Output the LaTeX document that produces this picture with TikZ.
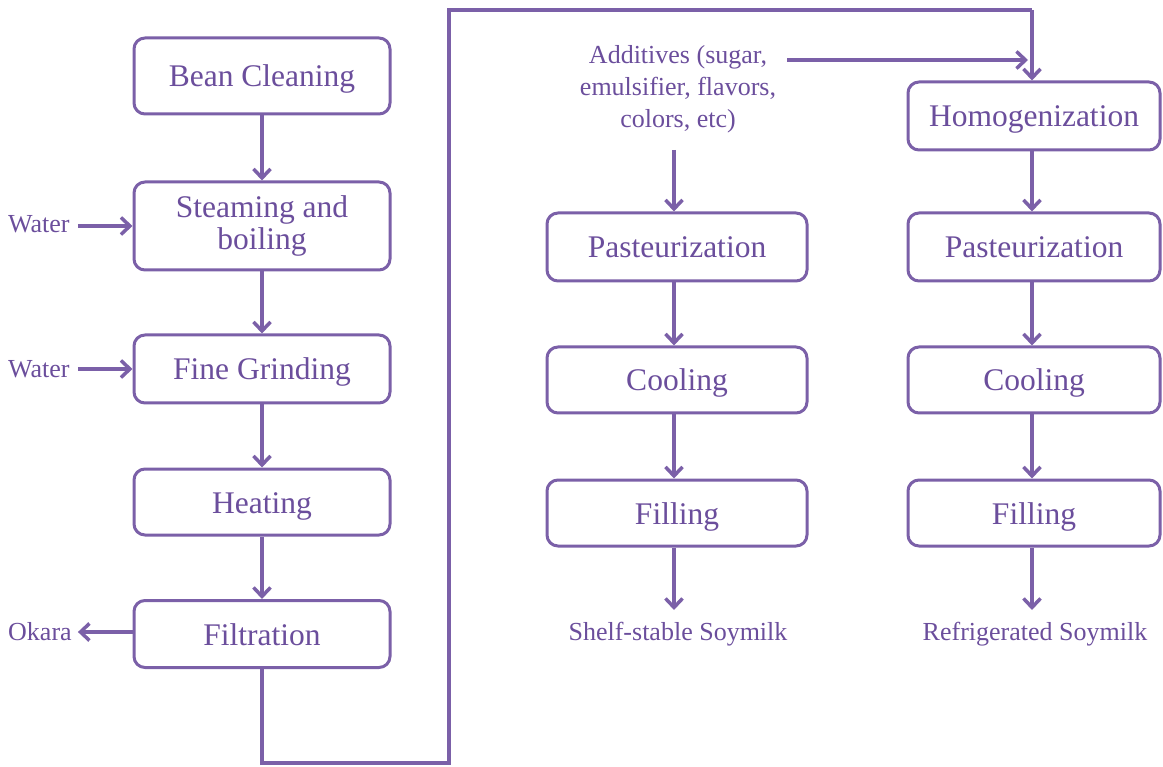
\documentclass[tikz,border=0pt]{standalone}
\usepackage{fontspec}
\setmainfont{Liberation Serif}
\usetikzlibrary{arrows.meta,calc}
\definecolor{pline}{HTML}{7B60A8}
\definecolor{ptext}{HTML}{6B4E9C}
\newcommand{\ctext}[1]{\raisebox{-11pt}[0pt][0pt]{#1}}
\tikzset{
  stepbox/.style={draw=pline, line width=3pt, rounded corners=11pt, fill=white,
    text=ptext, font=\fontsize{31.5}{32}\selectfont, align=center, inner sep=0pt},
  lbl/.style={text=ptext, font=\fontsize{26}{32}\selectfont, align=center, inner sep=0pt},
  flow/.style={draw=pline, line width=3.5pt, -{Straight Barb[length=9pt,width=17pt,line width=3.5pt]}},
  plain/.style={draw=pline, line width=3.5pt}
}
\begin{document}
\begin{tikzpicture}[x=1pt,y=-1pt]
\useasboundingbox (0,0) rectangle (1163,767);
% left column
\node[stepbox, minimum width=256pt, minimum height=76pt] (bean) at (262,76) {\ctext{Bean Cleaning}};
\node[stepbox, minimum width=256pt, minimum height=88pt] (steam) at (262,226) {Steaming and\\boiling};
\node[stepbox, minimum width=256pt, minimum height=68pt] (grind) at (262,369) {\ctext{Fine Grinding}};
\node[stepbox, minimum width=256pt, minimum height=66pt] (heat) at (262,502) {\ctext{Heating}};
\node[stepbox, minimum width=256pt, minimum height=67pt] (filt) at (262,634) {\ctext{Filtration}};
% middle column
\node[stepbox, minimum width=260pt, minimum height=68pt] (past1) at (677,247) {\ctext{Pasteurization}};
\node[stepbox, minimum width=260pt, minimum height=66pt] (cool1) at (677,380) {\ctext{Cooling}};
\node[stepbox, minimum width=260pt, minimum height=66pt] (fill1) at (677,513) {\ctext{Filling}};
% right column
\node[stepbox, minimum width=252pt, minimum height=68pt] (homo) at (1034,116) {\ctext{Homogenization}};
\node[stepbox, minimum width=252pt, minimum height=68pt] (past2) at (1034,247) {\ctext{Pasteurization}};
\node[stepbox, minimum width=252pt, minimum height=66pt] (cool2) at (1034,380) {\ctext{Cooling}};
\node[stepbox, minimum width=252pt, minimum height=66pt] (fill2) at (1034,513) {\ctext{Filling}};
% labels
\node[lbl, anchor=west] (w1) at (8,224) {Water};
\node[lbl, anchor=west] (w2) at (8,369) {Water};
\node[lbl, anchor=west] (ok) at (8,632) {Okara};
\node[lbl] (add) at (678,89) {Additives (sugar,\\emulsifier, flavors,\\colors, etc)};
\node[lbl] (shelf) at (678,634) {Shelf-stable Soymilk};
\node[lbl] (refr) at (1035,634) {Refrigerated Soymilk};
% coordinates
\coordinate (addtop) at (674,150);
\coordinate (addR) at (787,60);
\coordinate (addE) at (1028,60);
\coordinate (c1) at (262,763);
\coordinate (c2) at (449,10);
\coordinate (ob) at (1032,10);
\coordinate (shelfT) at (674,610);
\coordinate (refrT) at (1032,610);
% left connectors
\draw[flow] (bean) -- (steam);
\draw[flow] (steam) -- (grind);
\draw[flow] (grind) -- (heat);
\draw[flow] (heat) -- (filt);
\draw[flow] ($(w1.east)+(8,2)$) -- ($(w1.east -| steam.west)+(0,2)$);
\draw[flow] ($(w2.east)+(8,0)$) -- (w2.east -| grind.west);
\draw[flow] (ok.east -| filt.west) -- ($(ok.east)+(6,0)$);
% long return line
\draw[plain, line join=miter] (filt.south) -- (c1) -| (c2) -- (ob);
\draw[flow] (ob) -- (ob |- homo.north);
\draw[flow] (addR) -- (addE);
% middle
\draw[flow] (addtop) -- (addtop |- past1.north);
\draw[flow] (past1.south -| addtop) -- (cool1.north -| addtop);
\draw[flow] (cool1.south -| addtop) -- (fill1.north -| addtop);
\draw[flow] (fill1.south -| addtop) -- (shelfT);
% right
\draw[flow] (homo.south -| ob) -- (past2.north -| ob);
\draw[flow] (past2.south -| ob) -- (cool2.north -| ob);
\draw[flow] (cool2.south -| ob) -- (fill2.north -| ob);
\draw[flow] (fill2.south -| ob) -- (refrT);
\end{tikzpicture}
\end{document}
